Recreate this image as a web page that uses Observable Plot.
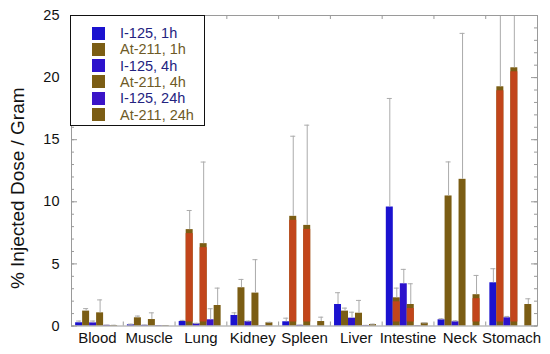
<!DOCTYPE html>
<html>
<head>
<meta charset="utf-8">
<script src="https://cdn.jsdelivr.net/npm/d3@7"></script>
<script src="https://cdn.jsdelivr.net/npm/@observablehq/plot@0.6"></script>
<style>
  html, body { margin: 0; padding: 0; background: #fff; }
  #chart { position: relative; width: 550px; height: 354px; font-family: "Liberation Sans", Arial, sans-serif; }
  #legend { position: absolute; left: 70px; top: 15px; width: 133px; height: 109px; border: 1.5px solid #111; background: #fff; box-sizing: content-box; }
  .item { position: absolute; left: 0; height: 16px; display: flex; align-items: center; font-size: 14.5px; white-space: nowrap; }
  .sw { width: 13px; height: 13px; margin-left: 21px; margin-right: 15px; }
</style>
</head>
<body>
<div id="chart"><div id="legend"></div></div>
<script>
// ---- data ----
const organs = ["Blood", "Muscle", "Lung", "Kidney", "Spleen", "Liver", "Intestine", "Neck", "Stomach"];
const series = ["I-125, 1h", "At-211, 1h", "I-125, 4h", "At-211, 4h", "I-125, 24h", "At-211, 24h"];

// mean % injected dose / gram, per series, in organ order
const i125_1h   = [0.26, 0.10, 0.36, 0.85, 0.34, 1.73, 9.58, 0.50, 3.48];
const at211_1h  = [1.20, 0.66, 7.76, 3.08, 8.83, 1.20, 2.27, 10.47, 19.26];
const i125_4h   = [0.25, 0.05, 0.18, 0.36, 0.05, 0.63, 3.40, 0.34, 0.66];
const at211_4h  = [1.06, 0.52, 6.63, 2.65, 8.10, 1.03, 1.73, 11.81, 20.79];
const i125_24h  = [0.05, 0.03, 0.50, 0.02, 0.00, 0.03, 0.02, 0.00, 0.00];
const at211_24h = [0.04, 0.03, 1.65, 0.26, 0.36, 0.12, 0.23, 2.52, 1.73];

// upper end of each error bar (mean + SD)
const hi_i125_1h   = [0.40, 0.15, 0.45, 1.06, 0.63, 2.68, 18.32, 0.58, 4.61];
const hi_at211_1h  = [1.40, 0.80, 9.30, 3.75, 15.28, 1.44, 3.05, 13.21, 30.0];
const hi_i125_4h   = [0.40, 0.08, 0.22, 0.40, 0.07, 1.11, 4.56, 0.42, 0.77];
const hi_at211_4h  = [2.10, 1.06, 13.20, 5.34, 16.17, 2.06, 3.40, 23.56, 30.0];
const hi_i125_24h  = [0.07, 0.04, 1.39, 0.03, 0.00, 0.05, 0.03, 0.00, 0.00];
const hi_at211_24h = [0.06, 0.04, 3.05, 0.30, 0.71, 0.15, 0.25, 4.07, 2.19];

const yTicks = [0, 5, 10, 15, 20, 25];
const yLabel = "% Injected Dose / Gram";

// ---- styling ----
const seriesColors = ["#1b12cf", "#7b5d14", "#2c12cc", "#7b5d14", "#3a14c8", "#7b5d14"];
const legendText = ["#23237f", "#6e5a26", "#23237f", "#6e5a26", "#23237f", "#6e5a26"];
const redTone = "#c2451b";
const redTinted = new Set(["Lung|At-211, 1h", "Lung|At-211, 4h", "Spleen|At-211, 1h", "Spleen|At-211, 4h",
  "Intestine|At-211, 1h", "Intestine|At-211, 4h", "Neck|At-211, 24h", "Stomach|At-211, 1h", "Stomach|At-211, 4h"]);
const axisGray = "#9a9a9a";
const errGray = "#ababab";

const W = 550, H = 354, mL = 71, mR = 13, mT = 15, mB = 28.5;
const plotW = W - mL - mR, plotH = H - mT - mB;

const means = [i125_1h, at211_1h, i125_4h, at211_4h, i125_24h, at211_24h];
const highs = [hi_i125_1h, hi_at211_1h, hi_i125_4h, hi_at211_4h, hi_i125_24h, hi_at211_24h];

const rows = [];
organs.forEach((organ, k) => series.forEach((s, j) => {
  rows.push({organ, k, series: s, j, v: means[j][k], hi: highs[j][k]});
}));

// bar placement inside each organ's unit band of the linear x scale
const lead = 0.08, slot = 0.81 / series.length;
const bx1 = d => d.k + lead + d.j * slot;
const bx2 = d => d.k + lead + (d.j + 1) * slot;
const bxc = d => d.k + lead + (d.j + 0.5) * slot;

const errRows = rows.filter(d => d.hi > d.v);
const minor = d3.range(0, 26);

const chart = Plot.plot({
  width: W, height: H,
  marginLeft: mL, marginRight: mR, marginTop: mT, marginBottom: mB,
  style: {fontFamily: '"Liberation Sans", Arial, sans-serif', background: "white", color: "#111"},
  x: {domain: [0, organs.length]},
  y: {domain: [0, 25]},
  color: {domain: series, range: seriesColors},
  marks: [
    Plot.rectY(rows, {x1: bx1, x2: bx2, y1: 0, y2: "v", fill: "series"}),
    Plot.rectY(rows.filter(d => redTinted.has(d.organ + "|" + d.series)),
      {x1: bx1, x2: bx2, y1: 0, y2: "v", fill: redTone, insetTop: 4, insetBottom: 4}),
    Plot.ruleX(errRows, {x: bxc, y1: "v", y2: "hi", stroke: errGray, strokeWidth: 1, clip: true}),
    Plot.ruleY(errRows, {y: "hi", x1: bxc, x2: bxc, insetLeft: -2.5, insetRight: -2.5, stroke: errGray, strokeWidth: 1, clip: true}),
    Plot.frame({stroke: axisGray, strokeWidth: 1}),
    // inward y ticks, left and right
    Plot.ruleY(minor, {stroke: axisGray, insetRight: plotW - 3}),
    Plot.ruleY(yTicks, {stroke: axisGray, insetRight: plotW - 6}),
    Plot.ruleY(minor, {stroke: axisGray, insetLeft: plotW - 3}),
    Plot.ruleY(yTicks, {stroke: axisGray, insetLeft: plotW - 6}),
    // organ boundary ticks, bottom and top
    Plot.ruleX(d3.range(1, organs.length), {stroke: axisGray, insetTop: plotH - 4}),
    Plot.ruleX(d3.range(1, organs.length), {stroke: axisGray, insetBottom: plotH - 4}),
    Plot.axisY({ticks: yTicks, tickSize: 0, tickPadding: 12, fontSize: 14.5, label: null, tickFormat: d => String(d)}),
    Plot.axisX({ticks: organs.map((o, k) => k + 0.5), tickSize: 0, tickPadding: 6, fontSize: 15, label: null,
      tickFormat: t => organs[Math.floor(t)]}),
    Plot.text([yLabel], {text: d => d, frameAnchor: "left", textAnchor: "middle", rotate: -90, dx: -54, dy: 17.5, fontSize: 19, fill: "#111"})
  ]
});

const host = document.getElementById("chart");
host.insertBefore(chart, host.firstChild);

const legend = document.getElementById("legend");
series.forEach((s, j) => {
  const item = document.createElement("div");
  item.className = "item";
  item.style.top = (9 + j * 16.3) + "px";
  const sw = document.createElement("div");
  sw.className = "sw";
  sw.style.background = seriesColors[j];
  const tx = document.createElement("span");
  tx.textContent = s;
  tx.style.color = legendText[j];
  item.appendChild(sw); item.appendChild(tx);
  legend.appendChild(item);
});
</script>
</body>
</html>
